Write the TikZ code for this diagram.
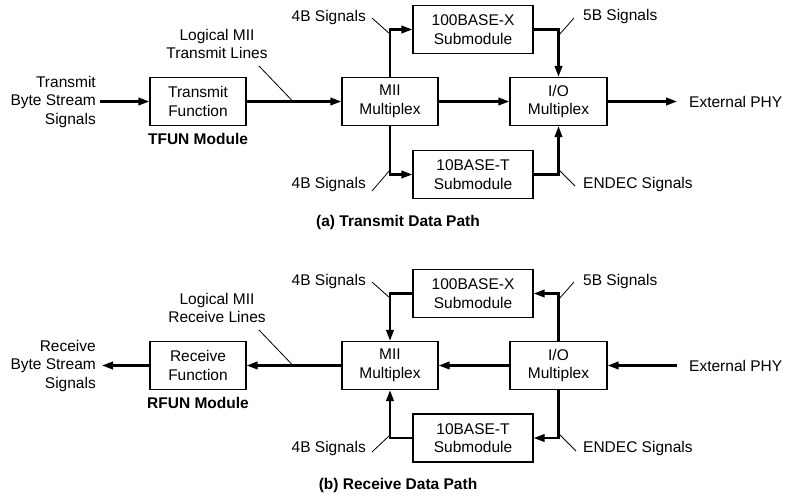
\documentclass[tikz,border=0pt]{standalone}
\usepackage{fontspec}
\setmainfont{Liberation Sans}
\usetikzlibrary{arrows.meta}
\begin{document}
\begin{tikzpicture}[x=1pt,y=-1pt,
  every node/.style={font=\fontsize{15.5}{18.5}\selectfont, inner sep=0pt},
  blk/.style={draw, line width=1.3pt, align=center, minimum height=48pt},
  narrow/.style={blk, minimum width=96pt},
  wide/.style={blk, minimum width=120pt},
  conn/.style={line width=2.2pt, -{Triangle[length=11pt,width=7.5pt]}},
  plainconn/.style={line width=2.2pt},
  lead/.style={line width=0.8pt},
  bold/.style={font=\fontsize{15.5}{18.5}\selectfont\bfseries},
]
\useasboundingbox (0,0) rectangle (788,498);

% ---------------- (a) Transmit ----------------
\node[narrow] (tf) at (198,101.5) {Transmit\\Function};
\node[narrow] (mii) at (390,101.5) {MII\\Multiplex};
\node[blk, minimum width=97pt] (io) at (558.5,101.5) {I/O\\Multiplex};
\node[wide] (x100) at (473,29.5) {100BASE-X\\Submodule};
\node[wide] (t10) at (473,174.5) {10BASE-T\\Submodule};

\node[align=right, anchor=east] (tin) at (96,101.5) {Transmit\\Byte Stream\\Signals};
\node[anchor=west] (tphy) at (689,101.5) {External PHY};
\coordinate (tphyend) at (677,101.5);
\node[bold] (tfun) at (198,139) {TFUN Module};
\node[align=center] (tlog) at (217,44) {Logical MII\\Transmit Lines};
\node[anchor=east] (t4a) at (366,17) {4B Signals};
\node[anchor=east] (t4b) at (366,184) {4B Signals};
\node[anchor=west] (t5b) at (583,16) {5B Signals};
\node[anchor=west] (tend) at (583,184) {ENDEC Signals};
\node[bold] (tcap) at (398,222) {(a) Transmit Data Path};

\draw[conn] ([xshift=4pt]tin.east) -- (tf.west);
\draw[conn] (tf.east) -- (mii.west);
\draw[conn] (mii.north) |- (x100.west);
\draw[conn] (mii.south) |- (t10.west);
\draw[conn] (x100.east) -| (io.north);
\draw[conn] (t10.east) -| (io.south);
\draw[conn] (mii.east) -- (io.west);
\draw[conn] (io.east) -- (tphyend);

\coordinate (tl1) at (259,66); \coordinate (tl2) at (293,101.5);
\draw[lead] (tl1) -- (tl2);
\coordinate (ta1) at (372,18); \coordinate (ta2) at (390,34);
\draw[lead] (ta1) -- (ta2);
\coordinate (tb1) at (372,191); \coordinate (tb2) at (390,170);
\draw[lead] (tb1) -- (tb2);
\coordinate (tc1) at (574,18); \coordinate (tc2) at (559,35);
\draw[lead] (tc1) -- (tc2);
\coordinate (td1) at (558,169); \coordinate (td2) at (575,186);
\draw[lead] (td1) -- (td2);

% ---------------- (b) Receive ----------------
\begin{scope}[shift={(0,264)}]
\node[narrow] (rf) at (198,101.5) {Receive\\Function};
\node[narrow] (rmii) at (390,101.5) {MII\\Multiplex};
\node[blk, minimum width=97pt] (rio) at (558.5,101.5) {I/O\\Multiplex};
\node[wide] (rx100) at (473,29.5) {100BASE-X\\Submodule};
\node[wide] (rt10) at (473,174) {10BASE-T\\Submodule};

\node[align=right, anchor=east] (rout) at (96,101.5) {Receive\\Byte Stream\\Signals};
\coordinate (routend) at (102,101.5);
\node[anchor=west] (rphy) at (689,101.5) {External PHY};
\coordinate (rphystart) at (677,101.5);
\node[bold] (rfun) at (198,139) {RFUN Module};
\node[align=center] (rlog) at (217,44) {Logical MII\\Receive Lines};
\node[anchor=east] (r4a) at (366,17) {4B Signals};
\node[anchor=east] (r4b) at (366,184) {4B Signals};
\node[anchor=west] (r5b) at (583,17) {5B Signals};
\node[anchor=west] (rend) at (583,184) {ENDEC Signals};
\node[bold] (rcap) at (398,221) {(b) Receive Data Path};

\draw[conn] (rf.west) -- (routend);
\draw[conn] (rmii.west) -- (rf.east);
\draw[conn] (rx100.west) -| (rmii.north);
\draw[conn] (rt10.west) -| (rmii.south);
\draw[conn] (rio.north) |- (rx100.east);
\draw[conn] (rio.south) |- (rt10.east);
\draw[conn] (rio.west) -- (rmii.east);
\draw[conn] (rphystart) -- (rio.east);

\coordinate (rl1) at (259,66); \coordinate (rl2) at (293,101.5);
\draw[lead] (rl1) -- (rl2);
\coordinate (ra1) at (372,18); \coordinate (ra2) at (390,34);
\draw[lead] (ra1) -- (ra2);
\coordinate (rb1) at (372,188); \coordinate (rb2) at (390,171);
\draw[lead] (rb1) -- (rb2);
\coordinate (rc1) at (574,18); \coordinate (rc2) at (559,35);
\draw[lead] (rc1) -- (rc2);
\coordinate (rd1) at (559,170); \coordinate (rd2) at (576,187);
\draw[lead] (rd1) -- (rd2);
\end{scope}
\end{tikzpicture}
\end{document}
